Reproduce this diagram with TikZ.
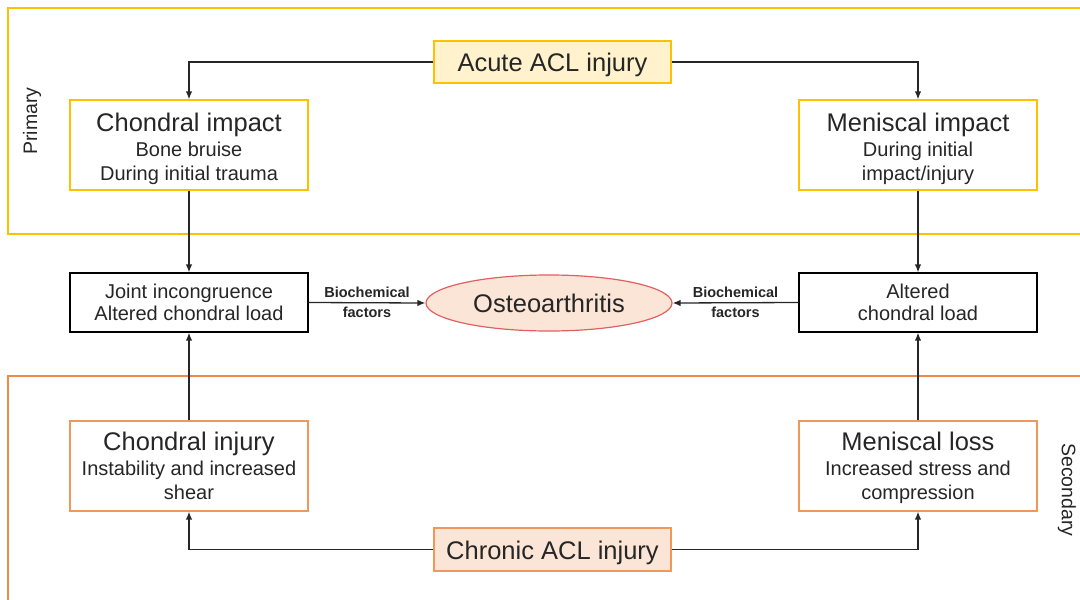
\documentclass[tikz,border=0pt]{standalone}
\usepackage{fontspec}
\setmainfont{Liberation Sans}
\usetikzlibrary{arrows.meta,shapes.geometric}

\definecolor{gold}{HTML}{FFC000}
\definecolor{paleyellow}{HTML}{FFF2CC}
\definecolor{deeporng}{HTML}{ED7D31}
\definecolor{paleorng}{HTML}{FBE5D6}
\definecolor{oared}{HTML}{E06060}
\definecolor{ink}{HTML}{262626}

% title line of a box; the strut lowers the text a little
\newcommand{\boxtitle}[2][27pt]{{\fontsize{25.5}{27}\selectfont\rule{0pt}{#1}\vphantom{g}#2}}

\begin{document}
\begin{tikzpicture}[x=1pt,y=-1pt]

\tikzset{box/.style = {shape=rectangle,draw,line width=1.2pt,text=ink,align=center,
  inner sep=0pt,font=\fontsize{20}{24.5}\selectfont}}
\tikzset{primarybox/.style = {box,draw=gold,minimum width=238pt,minimum height=90pt}}
\tikzset{secondarybox/.style = {box,draw=deeporng!80,minimum width=238pt,minimum height=90pt}}
\tikzset{middlebox/.style = {box,draw=black,minimum width=238pt,minimum height=59pt,
  font=\fontsize{20}{22.5}\selectfont}}
\tikzset{edge/.style = {draw=ink,line width=1.3pt,-{Latex[length=8pt,width=6.5pt]}}}
\tikzset{factor/.style = {text=ink,align=center,font=\fontsize{14.5}{20}\selectfont\bfseries}}
\tikzset{region/.style = {line width=1.4pt}}
\tikzset{side/.style = {text=ink,font=\fontsize{19.5}{22}\selectfont}}

\useasboundingbox (0,0) rectangle (1080,600);
% regions
\draw[region,draw=gold] (8,8) rectangle (1095,234);
\draw[region,draw=deeporng!90] (8,376) rectangle (1095,615);
\node[side,rotate=90] (primary) at (32,121) {Primary};
\node[side,rotate=-90] (secondary) at (1067,490) {Secondary};
% nodes
\node[box,draw=gold,fill=paleyellow,minimum width=237pt,minimum height=42pt] (acute) at (552.5,62) {\boxtitle[25pt]{Acute ACL injury}};
\node[primarybox] (cimpact) at (189,145) {\boxtitle{Chondral impact}\\Bone bruise\\During initial trauma};
\node[primarybox] (mimpact) at (918,145) {\boxtitle{Meniscal impact}\\During initial\\impact/injury};
\node[middlebox] (joint) at (189,302.5) {Joint incongruence\\Altered chondral load};
\node[middlebox] (altered) at (918,302.5) {Altered\\chondral load};
\node[shape=ellipse,draw=oared,fill=paleorng,line width=1.2pt,minimum width=246pt,minimum height=56pt,
  inner sep=0pt,text=ink,font=\fontsize{25.5}{27}\selectfont] (oa) at (549,303) {Osteoarthritis};
\node[secondarybox] (cinjury) at (189,466) {\boxtitle[23pt]{Chondral injury}\\Instability and increased\\shear\vphantom{g}};
\node[secondarybox] (mloss) at (918,466) {\boxtitle[23pt]{Meniscal loss}\\Increased stress and\\compression};
\node[box,draw=deeporng!80,fill=paleorng,minimum width=237pt,minimum height=43pt] (chronic) at (552.5,549.5) {\boxtitle[25pt]{Chronic ACL injury}};
% edges
\draw[edge] (acute.west) -| (cimpact.north);
\draw[edge] (acute.east) -| (mimpact.north);
\draw[edge] (cimpact.south) -- (joint.north);
\draw[edge] (mimpact.south) -- (altered.north);
\draw[edge] (joint.east) -- node[factor] {Biochemical\\factors} (oa.west);
\draw[edge] (altered.west) -- node[factor] {Biochemical\\factors} (oa.east);
\draw[edge] (cinjury.north) -- (joint.south);
\draw[edge] (mloss.north) -- (altered.south);
\draw[edge] (chronic.west) -| (cinjury.south);
\draw[edge] (chronic.east) -| (mloss.south);
\end{tikzpicture}
\end{document}
